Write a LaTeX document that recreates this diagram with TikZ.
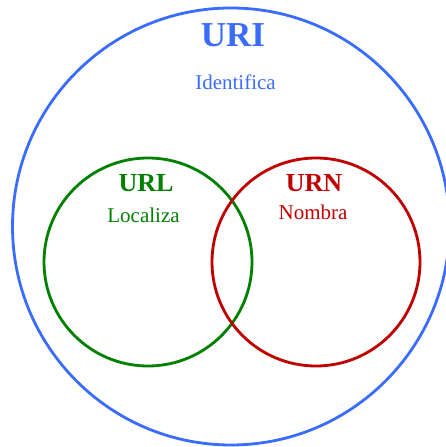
\documentclass[tikz,border=0pt]{standalone}
\usepackage{fontspec}
\setmainfont{Liberation Serif}
\usetikzlibrary{positioning}
\definecolor{uriblue}{RGB}{58,108,255}
\definecolor{urlgreen}{RGB}{0,128,0}
\definecolor{urnred}{RGB}{192,0,0}

\begin{document}
\begin{tikzpicture}[x=1pt,y=1pt,
  set/.style={line width=2.8pt},
  ttl/.style={anchor=base,font=\fontsize{26}{28}\selectfont\bfseries},
  verb/.style={anchor=base,font=\fontsize{21}{23}\selectfont}]
\useasboundingbox (0,0) rectangle (446,447);
% URI
\draw[set,uriblue] (231,220.5) circle[radius=218.5pt];
\node[ttl,uriblue,font=\fontsize{35}{38}\selectfont\bfseries] (uri) at (233,400.5) {URI};
\node[verb,uriblue] (ident) at (235.5,357) {Identifica};
% URL
\draw[set,urlgreen] (148,185) circle[radius=104pt];
\node[ttl,urlgreen] (url) at (146,255) {URL};
\node[verb,urlgreen] (loc) at (143.5,224) {Localiza};
% URN
\draw[set,urnred] (316,185) circle[radius=104pt];
\node[ttl,urnred] (urn) at (314,255) {URN};
\node[verb,urnred] (nom) at (313,227) {Nombra};
\end{tikzpicture}
\end{document}
